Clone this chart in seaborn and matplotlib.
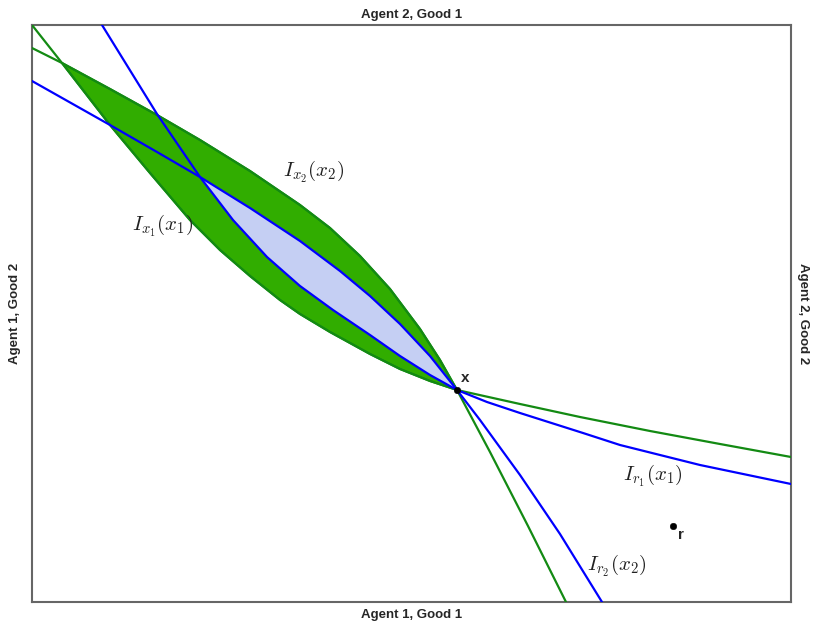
"""Edgeworth box: indifference curves through x and r."""
import matplotlib
matplotlib.use("Agg")
import matplotlib.pyplot as plt
import numpy as np
import pandas as pd
import seaborn as sns

# box size (good 1 total, good 2 total)
BOX_W, BOX_H = 759, 577

# agent 2 indifference curve through x (green, bowed out)
gu_x = [0, 30, 78, 125, 168, 218, 268, 298, 328, 358, 388, 408, 425, 458, 496, 534]
gu_y = [554, 539, 513, 487, 462, 431, 397, 374, 346, 313, 273, 242, 212, 150, 76, 0]
# agent 1 indifference curve through x (green, bowed in)
gl_x = [0, 30, 78, 118, 158, 188, 218, 248, 268, 298, 338, 368, 398, 425, 488, 548, 618, 688, 759]
gl_y = [577, 539, 477, 429, 382, 352, 326, 302, 288, 270, 248, 233, 221, 212, 198, 185, 171, 158, 145]
# agent 2 curve (blue)
bu_x = [0, 78, 125, 168, 218, 268, 308, 338, 368, 398, 425, 448, 488, 528, 570]
bu_y = [521, 477, 450, 425, 394, 361, 331, 306, 278, 246, 212, 182, 127, 68, 0]
# agent 1 curve (blue)
bl_x = [70, 125, 168, 201, 235, 268, 301, 338, 368, 398, 425, 455, 488, 551, 588, 668, 759]
bl_y = [577, 488, 425, 382, 345, 316, 292, 267, 246, 227, 212, 200, 189, 169, 157, 137, 118]

points = ["x", "r"]
pt_x = [425, 641]
pt_y = [212, 76]

GREEN_LINE = "#138a13"
GREEN_FILL = "#31ad00"
BLUE_LINE = "#0000ff"
BLUE_FILL = "#c5cff3"

sns.set_theme(style="white")
plt.rcParams["mathtext.fontset"] = "cm"
plt.rcParams["font.family"] = ["Liberation Sans", "DejaVu Sans"]

fig = plt.figure(figsize=(8.13, 6.34), dpi=100)
ax = fig.add_axes([32 / 813, 32 / 634, 759 / 813, 577 / 634])

# green lens: between the two green curves from their crossing to x
i0, i1 = gu_x.index(30), gu_x.index(425)
j0, j1 = gl_x.index(30), gl_x.index(425)
lens_x = gu_x[i0:i1 + 1] + gl_x[j0:j1 + 1][::-1]
lens_y = gu_y[i0:i1 + 1] + gl_y[j0:j1 + 1][::-1]
ax.fill(lens_x, lens_y, facecolor=GREEN_FILL, edgecolor=GREEN_LINE, linewidth=1.5,
        joinstyle="round", zorder=1)

# light blue lens between the blue curves
i0, i1 = bu_x.index(168), bu_x.index(425)
j0, j1 = bl_x.index(168), bl_x.index(425)
blue_x = bu_x[i0:i1 + 1] + bl_x[j0:j1 + 1][::-1]
blue_y = bu_y[i0:i1 + 1] + bl_y[j0:j1 + 1][::-1]
ax.fill(blue_x, blue_y, facecolor=BLUE_FILL, edgecolor="none", zorder=2)

for cx, cy, col in [(gu_x, gu_y, GREEN_LINE), (gl_x, gl_y, GREEN_LINE),
                    (bu_x, bu_y, BLUE_LINE), (bl_x, bl_y, BLUE_LINE)]:
    sns.lineplot(x=cx, y=cy, sort=False, estimator=None, color=col, linewidth=1.6,
                 solid_joinstyle="round", ax=ax, zorder=3)

sns.scatterplot(x=pt_x, y=pt_y, color="black", s=22, edgecolor="black", ax=ax, zorder=5)
ax.text(pt_x[0] + 4, pt_y[0] + 5, points[0], fontsize=11, fontweight="bold", ha="left", va="bottom")
ax.text(pt_x[1] + 5, pt_y[1] - 2, points[1], fontsize=11, fontweight="bold", ha="left", va="top")

lab = dict(fontsize=15, color="#222222", ha="center", va="center")
ax.text(282, 430, r"$I_{x_2}(x_2)$", **lab)
ax.text(131, 376, r"$I_{x_1}(x_1)$", **lab)
ax.text(621, 126, r"$I_{r_1}(x_1)$", **lab)
ax.text(585, 36, r"$I_{r_2}(x_2)$", **lab)

ax.set_xlim(0, BOX_W)
ax.set_ylim(0, BOX_H)
ax.set_xticks([]); ax.set_yticks([])
for s in ax.spines.values():
    s.set_color("#666666"); s.set_linewidth(1.5)

ax.set_xlabel("Agent 1, Good 1", fontsize=9.5, fontweight="bold", labelpad=5)
ax.set_ylabel("Agent 1, Good 2", fontsize=9.5, fontweight="bold", labelpad=8)
ax.set_title("Agent 2, Good 1", fontsize=9.5, fontweight="bold", pad=5)
ax.text(1.016, 0.5, "Agent 2, Good 2", fontsize=9.5, fontweight="bold", rotation=270,
        ha="center", va="center", transform=ax.transAxes)

fig.savefig("out.png", dpi=100)
